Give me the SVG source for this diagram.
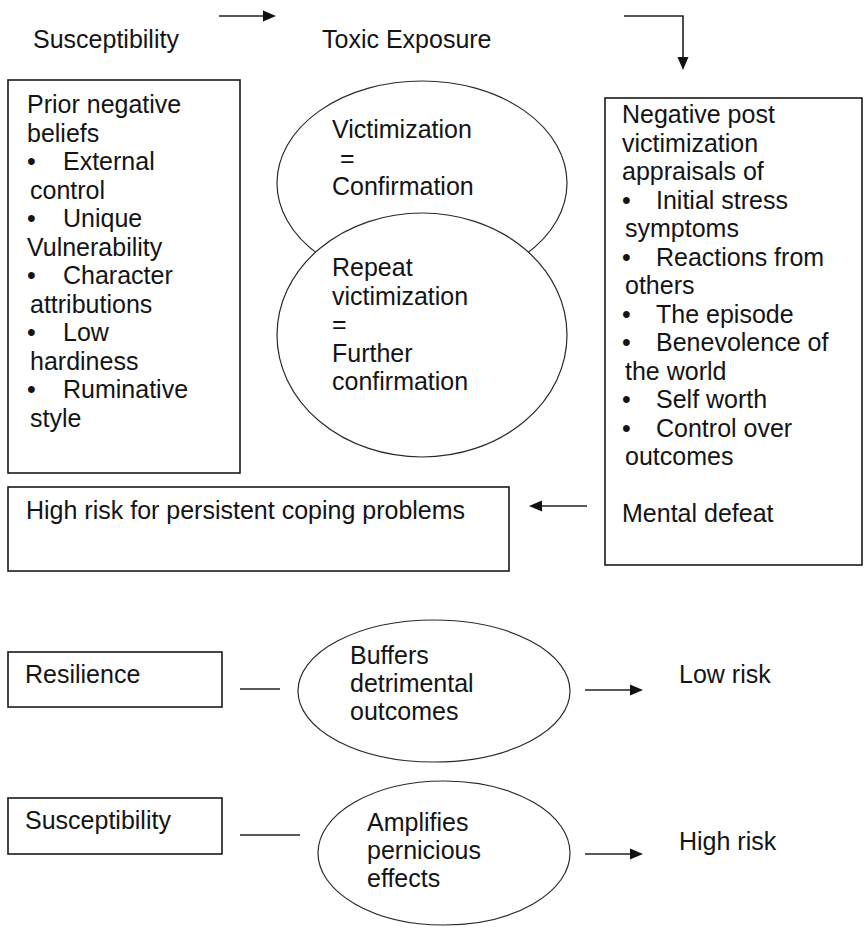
<svg xmlns="http://www.w3.org/2000/svg" width="865" height="930" viewBox="0 0 865 930">
<defs>
<style>
text{font-family:"Liberation Sans",Arial,sans-serif;font-size:25px;fill:#141414}
.box{fill:#fff;stroke:#1a1a1a;stroke-width:1.6}
.ell{fill:#fff;stroke:#2a2a2a;stroke-width:1.2}
.ln{stroke:#222;stroke-width:1.6;fill:none}
</style>
<marker id="ah" markerUnits="userSpaceOnUse" markerWidth="13" markerHeight="12" refX="7" refY="6" orient="auto">
<path d="M0,0.5 L13,6 L0,11.5 z" fill="#111"/>
</marker>
</defs>
<rect width="865" height="930" fill="#fff"/>

<g id="top-labels">
<text x="33" y="48">Susceptibility</text>
<text x="322" y="48">Toxic Exposure</text>
</g>

<g id="prior-beliefs">
<rect class="box" x="8" y="80" width="232" height="393"/>
<text x="27" y="113">Prior negative</text>
<text x="27" y="141.5">beliefs</text>
<text x="27" y="170">•</text><text x="63" y="170">External</text>
<text x="30" y="198.5">control</text>
<text x="27" y="227">•</text><text x="63" y="227">Unique</text>
<text x="27" y="255.5">Vulnerability</text>
<text x="27" y="284">•</text><text x="63" y="284">Character</text>
<text x="30" y="312.5">attributions</text>
<text x="27" y="341">•</text><text x="63" y="341">Low</text>
<text x="30" y="369.5">hardiness</text>
<text x="27" y="398">•</text><text x="63" y="398">Ruminative</text>
<text x="30" y="426.5">style</text>
</g>

<g id="victimization">
<ellipse class="ell" cx="422" cy="183" rx="145" ry="102"/>
<text x="332" y="138">Victimization</text>
<text x="340" y="166.5">=</text>
<text x="332" y="195">Confirmation</text>
</g>

<g id="repeat-victimization">
<ellipse class="ell" cx="422" cy="335" rx="145" ry="122"/>
<text x="332" y="276">Repeat</text>
<text x="332" y="304.5">victimization</text>
<text x="332" y="333">=</text>
<text x="332" y="361.5">Further</text>
<text x="332" y="390">confirmation</text>
</g>

<g id="appraisals">
<rect class="box" x="605" y="98" width="257" height="467"/>
<text x="622" y="123">Negative post</text>
<text x="622" y="151.5">victimization</text>
<text x="622" y="180">appraisals of</text>
<text x="622" y="208.5">•</text><text x="656" y="208.5">Initial stress</text>
<text x="625" y="237">symptoms</text>
<text x="622" y="265.5">•</text><text x="656" y="265.5">Reactions from</text>
<text x="625" y="294">others</text>
<text x="622" y="322.5">•</text><text x="656" y="322.5">The episode</text>
<text x="622" y="351">•</text><text x="656" y="351">Benevolence of</text>
<text x="625" y="379.5">the world</text>
<text x="622" y="408">•</text><text x="656" y="408">Self worth</text>
<text x="622" y="436.5">•</text><text x="656" y="436.5">Control over</text>
<text x="625" y="465">outcomes</text>
<text x="622" y="522">Mental defeat</text>
</g>

<g id="high-risk-coping">
<rect class="box" x="8" y="487" width="501" height="84"/>
<text x="26" y="519">High risk for persistent coping problems</text>
</g>

<g id="resilience">
<rect class="box" x="8" y="652" width="214" height="55"/>
<text x="25" y="683">Resilience</text>
</g>

<g id="buffers">
<ellipse class="ell" cx="434" cy="691" rx="136" ry="71"/>
<text x="350" y="664">Buffers</text>
<text x="350" y="692">detrimental</text>
<text x="350" y="720">outcomes</text>
</g>

<g id="low-risk">
<text x="679" y="683">Low risk</text>
</g>

<g id="susceptibility">
<rect class="box" x="8" y="798" width="214" height="56"/>
<text x="25" y="829">Susceptibility</text>
</g>

<g id="amplifies">
<ellipse class="ell" cx="444" cy="853" rx="126" ry="72"/>
<text x="367" y="831">Amplifies</text>
<text x="367" y="859">pernicious</text>
<text x="367" y="887">effects</text>
</g>

<g id="high-risk">
<text x="679" y="850">High risk</text>
</g>

<g id="connectors">
<line class="ln" x1="219" y1="16" x2="270" y2="16" marker-end="url(#ah)"/>
<path class="ln" d="M624,16 H683 V64" marker-end="url(#ah)"/>
<line class="ln" x1="587" y1="506" x2="535" y2="506" marker-end="url(#ah)"/>
<line class="ln" x1="240" y1="689" x2="280" y2="689"/>
<line class="ln" x1="585" y1="690" x2="637" y2="690" marker-end="url(#ah)"/>
<line class="ln" x1="240" y1="835" x2="300" y2="835"/>
<line class="ln" x1="585" y1="854" x2="637" y2="854" marker-end="url(#ah)"/>
</g>
</svg>
